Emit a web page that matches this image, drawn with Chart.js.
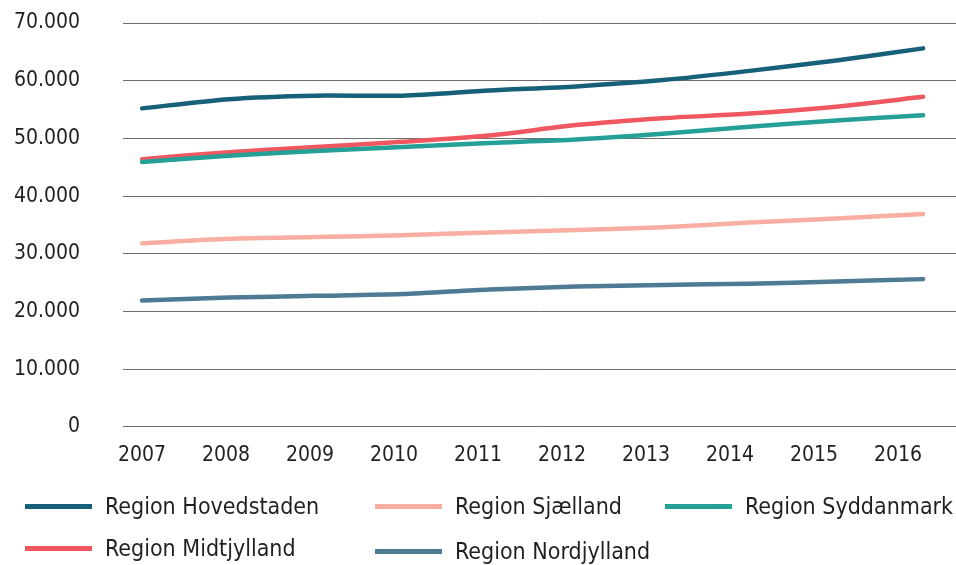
<!DOCTYPE html>
<html>
<head>
<meta charset="utf-8">
<script src="https://cdn.jsdelivr.net/npm/chart.js@4"></script>
<style>
  body { margin: 0; background: #fff; }
  #wrap { position: relative; width: 956px; height: 565px; }
  #legend { position: absolute; left: 0; top: 0; width: 956px; height: 565px; pointer-events: none; }
  .item { position: absolute; display: flex; align-items: center; font-family: 'DejaVu Sans Condensed', 'DejaVu Sans', sans-serif; font-size: 23px; color: #231f20; white-space: nowrap; }
  .swatch { width: 67px; height: 5px; margin-right: 13px; }
</style>
</head>
<body>
<div id="wrap">
  <canvas id="chart" width="956" height="480"></canvas>
  <div id="legend"></div>
</div>
<script>
const years = [2007, 2008, 2009, 2010, 2011, 2012, 2013, 2014, 2015, 2016];
const hovedstaden = [55200, 56800, 57400, 57400, 58300, 59000, 60100, 61700, 63500, 65600];
const sjaelland = [31800, 32600, 32900, 33200, 33700, 34100, 34600, 35400, 36100, 36900];
const syddanmark = [45900, 47000, 47800, 48500, 49200, 49800, 50800, 52000, 53100, 54000];
const midtjylland = [46400, 47600, 48500, 49400, 50500, 52300, 53500, 54300, 55500, 57200];
const nordjylland = [21900, 22400, 22700, 23000, 23800, 24300, 24600, 24800, 25200, 25600];
const yTicks = [0, 10000, 20000, 30000, 40000, 50000, 60000, 70000];

const font = "'DejaVu Sans Condensed', 'DejaVu Sans', sans-serif";

function series(label, values, color) {
    return {
        label: label,
        data: years.map((y, i) => ({ x: y, y: values[i] })),
        borderColor: color,
        backgroundColor: color,
        borderWidth: 4.5,
        borderCapStyle: 'round',
        pointRadius: 0,
        tension: 0.25,
        fill: false
    };
}

const datasets = [
    series('Region Hovedstaden', hovedstaden, '#17607a'),
    series('Region Sjælland', sjaelland, '#f8aea1'),
    series('Region Syddanmark', syddanmark, '#25a096'),
    series('Region Midtjylland', midtjylland, '#ef5861'),
    series('Region Nordjylland', nordjylland, '#4e7b94')
];

const chart = new Chart(document.getElementById('chart'), {
    type: 'line',
    data: { datasets: datasets },
    options: {
        responsive: false,
        animation: false,
        layout: { padding: { top: 23, left: 14, right: 0, bottom: 12 } },
        plugins: { legend: { display: false }, tooltip: { enabled: false } },
        scales: {
            // data axis (hidden) and a label axis, the labels in the original sit a bit tighter than the points
            x: { type: 'linear', display: false, min: 2006.781, max: 2016.379 },
            xl: {
                type: 'linear',
                position: 'bottom',
                min: 2006.774,
                max: 2016.69,
                grid: { display: false, drawTicks: true, tickLength: 16 },
                border: { display: false },
                ticks: {
                    stepSize: 1,
                    includeBounds: false,
                    padding: 0,
                    color: '#231f20',
                    font: { family: font, size: 21 },
                    callback: (v) => String(v)
                }
            },
            y: {
                min: 0,
                max: 70000,
                afterBuildTicks: (axis) => { axis.ticks = yTicks.map(v => ({ value: v })); },
                grid: { color: '#6e6e6e', lineWidth: 1, drawTicks: true, tickLength: 43, tickColor: 'rgba(0,0,0,0)' },
                border: { display: false },
                ticks: {
                    padding: 0,
                    color: '#231f20',
                    font: { family: font, size: 21 },
                    callback: (v) => v.toString().replace(/\B(?=(\d{3})+(?!\d))/g, '.')
                }
            }
        }
    }
});

// legend built from the datasets, laid out in columns like the original
const slots = [[25, 507], [375, 507], [665, 507], [25, 549], [375, 552]];
const legend = document.getElementById('legend');
chart.data.datasets.forEach((ds, i) => {
    const el = document.createElement('div');
    el.className = 'item';
    el.style.left = slots[i][0] + 'px';
    el.style.top = (slots[i][1] - 14) + 'px';
    el.innerHTML = '<span class="swatch" style="background:' + ds.borderColor + '"></span>' + ds.label;
    legend.appendChild(el);
});
</script>
</body>
</html>
